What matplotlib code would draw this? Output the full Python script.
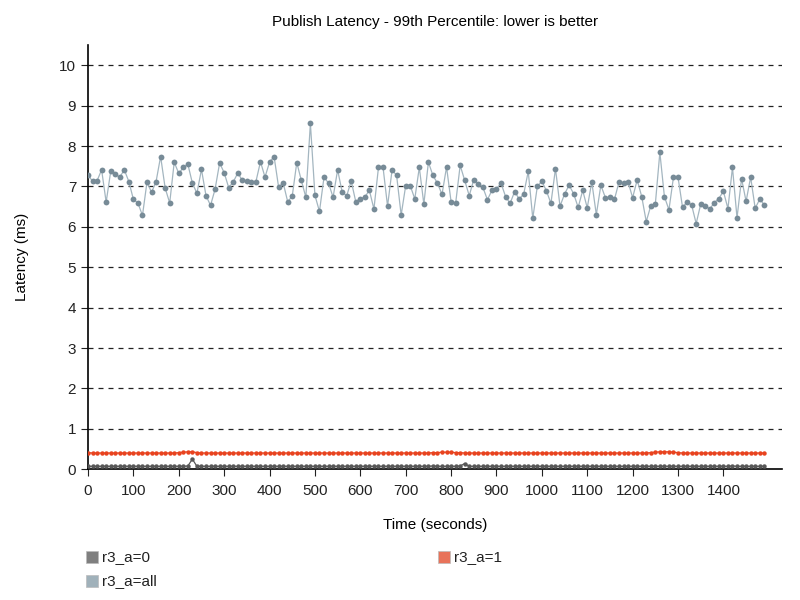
import numpy as np
import matplotlib
matplotlib.use("Agg")
import matplotlib.pyplot as plt
from matplotlib.patches import Rectangle

plt.rcParams['font.family'] = ['Liberation Sans', 'DejaVu Sans']

# time axis, one sample every 10 s
time_s = np.arange(0, 1500, 10)

# p99 latency (ms) per series
lat_all = [
    7.28, 7.13, 7.14, 7.41, 6.61, 7.37, 7.30, 7.23, 7.41, 7.12,
    6.68, 6.59, 6.28, 7.11, 6.85, 7.12, 7.74, 6.96, 6.59, 7.60,
    7.32, 7.47, 7.55, 7.08, 6.83, 7.42, 6.77, 6.53, 6.93, 7.58,
    7.34, 6.97, 7.11, 7.33, 7.15, 7.13, 7.12, 7.12, 7.61, 7.23,
    7.60, 7.74, 6.98, 7.09, 6.62, 6.76, 7.59, 7.15, 6.73, 8.56,
    6.78, 6.38, 7.23, 7.08, 6.73, 7.41, 6.86, 6.77, 7.13, 6.62,
    6.70, 6.74, 6.90, 6.44, 7.47, 7.48, 6.51, 7.41, 7.27, 6.29,
    7.02, 7.02, 6.69, 7.47, 6.56, 7.60, 7.27, 7.08, 6.80, 7.48,
    6.62, 6.58, 7.52, 7.15, 6.77, 7.17, 7.05, 6.98, 6.67, 6.90,
    6.94, 7.08, 6.75, 6.58, 6.87, 6.69, 6.81, 7.37, 6.21, 7.00,
    7.13, 6.89, 6.58, 7.44, 6.51, 6.81, 7.03, 6.82, 6.48, 6.90,
    6.47, 7.11, 6.30, 7.03, 6.72, 6.73, 6.68, 7.11, 7.09, 7.11,
    6.72, 7.16, 6.75, 6.13, 6.52, 6.56, 7.84, 6.75, 6.42, 7.23,
    7.23, 6.48, 6.62, 6.54, 6.08, 6.56, 6.52, 6.44, 6.60, 6.70,
    6.88, 6.45, 7.47, 6.22, 7.19, 6.63, 7.23, 6.46, 6.68, 6.55,
]
lat_0 = [
    0.07, 0.07, 0.07, 0.07, 0.07, 0.07, 0.07, 0.07, 0.07, 0.07,
    0.07, 0.07, 0.07, 0.07, 0.07, 0.07, 0.07, 0.07, 0.07, 0.07,
    0.07, 0.07, 0.08, 0.25, 0.07, 0.07, 0.07, 0.07, 0.07, 0.07,
    0.07, 0.07, 0.07, 0.07, 0.07, 0.07, 0.07, 0.07, 0.07, 0.07,
    0.07, 0.07, 0.07, 0.07, 0.07, 0.07, 0.07, 0.07, 0.07, 0.07,
    0.07, 0.07, 0.07, 0.07, 0.07, 0.07, 0.07, 0.07, 0.07, 0.07,
    0.07, 0.07, 0.07, 0.07, 0.07, 0.07, 0.07, 0.07, 0.07, 0.07,
    0.07, 0.07, 0.07, 0.07, 0.07, 0.07, 0.08, 0.07, 0.07, 0.07,
    0.07, 0.07, 0.08, 0.14, 0.07, 0.07, 0.07, 0.07, 0.07, 0.07,
    0.07, 0.07, 0.07, 0.07, 0.07, 0.07, 0.07, 0.07, 0.07, 0.07,
    0.07, 0.07, 0.07, 0.07, 0.07, 0.07, 0.07, 0.07, 0.07, 0.07,
    0.07, 0.07, 0.07, 0.07, 0.07, 0.07, 0.07, 0.07, 0.07, 0.07,
    0.07, 0.07, 0.07, 0.07, 0.07, 0.07, 0.07, 0.07, 0.07, 0.07,
    0.07, 0.07, 0.07, 0.07, 0.07, 0.07, 0.07, 0.07, 0.07, 0.07,
    0.07, 0.07, 0.08, 0.07, 0.07, 0.07, 0.07, 0.07, 0.07, 0.07,
]
lat_1 = [
    0.41, 0.40, 0.40, 0.40, 0.40, 0.40, 0.40, 0.40, 0.40, 0.40,
    0.40, 0.40, 0.40, 0.40, 0.40, 0.40, 0.40, 0.40, 0.40, 0.40,
    0.41, 0.42, 0.43, 0.43, 0.41, 0.40, 0.40, 0.40, 0.40, 0.40,
    0.40, 0.40, 0.40, 0.40, 0.40, 0.40, 0.40, 0.40, 0.40, 0.40,
    0.40, 0.40, 0.40, 0.40, 0.40, 0.40, 0.40, 0.40, 0.40, 0.40,
    0.40, 0.40, 0.40, 0.40, 0.40, 0.40, 0.40, 0.40, 0.40, 0.40,
    0.40, 0.40, 0.40, 0.40, 0.40, 0.40, 0.40, 0.40, 0.40, 0.40,
    0.40, 0.40, 0.40, 0.40, 0.40, 0.40, 0.41, 0.41, 0.42, 0.42,
    0.42, 0.41, 0.41, 0.40, 0.40, 0.40, 0.40, 0.40, 0.40, 0.40,
    0.40, 0.40, 0.40, 0.40, 0.40, 0.40, 0.40, 0.40, 0.40, 0.40,
    0.40, 0.40, 0.40, 0.40, 0.40, 0.40, 0.40, 0.40, 0.40, 0.40,
    0.40, 0.40, 0.40, 0.40, 0.40, 0.40, 0.40, 0.40, 0.40, 0.40,
    0.40, 0.40, 0.40, 0.40, 0.41, 0.42, 0.43, 0.43, 0.43, 0.42,
    0.41, 0.40, 0.40, 0.40, 0.40, 0.40, 0.40, 0.40, 0.40, 0.40,
    0.40, 0.40, 0.40, 0.40, 0.40, 0.40, 0.40, 0.40, 0.40, 0.40,
]

series_names = ['r3_a=0', 'r3_a=1', 'r3_a=all']
line_colors = ['#585858', '#e8431f', '#a4b6c0']
dot_colors = ['#585858', '#e8431f', '#778b97']
legend_colors = ['#7f7f7f', '#e8735a', '#a0b1ba']

fig = plt.figure(figsize=(8, 6), dpi=100)
ax = fig.add_axes([0.11, 0.218, 0.868, 0.707])

for vals, lc, dc, ms in zip([lat_0, lat_1, lat_all], line_colors, dot_colors, [3.2, 3.2, 4.2]):
    ax.plot(time_s, vals, color=lc, lw=0.9, zorder=3)
    ax.plot(time_s, vals, 'o', color=dc, ms=ms, mec='none', zorder=4)

ax.set_xlim(0, 1530)
ax.set_ylim(0, 10.5)
ax.set_xticks(np.arange(0, 1500, 100))
ax.set_yticks(np.arange(0, 11, 1))
for y in range(1, 11):
    ax.axhline(y, color='#222222', lw=0.9, ls=(0, (4, 4)), zorder=1)

for s in ['top', 'right']:
    ax.spines[s].set_visible(False)
ax.spines['left'].set_linewidth(1.2)
ax.spines['bottom'].set_linewidth(1.2)
ax.tick_params(length=5, width=0.8, labelsize=11, colors='#222222')
ax.tick_params(axis='x', pad=6)

ax.set_title('Publish Latency - 99th Percentile: lower is better', fontsize=11, pad=14)
ax.set_ylabel('Latency (ms)', fontsize=11, labelpad=22)
ax.set_xlabel('Time (seconds)', fontsize=11, labelpad=14)

# legend squares below the plot
leg_pos = [(0.107, 0.061), (0.547, 0.061), (0.107, 0.022)]
for (lx, ly), name, c in zip(leg_pos, series_names, legend_colors):
    fig.add_artist(Rectangle((lx, ly), 0.015, 0.02, transform=fig.transFigure,
                             facecolor=c, edgecolor='#bbbbbb', lw=0.5))
    fig.text(lx + 0.021, ly + 0.01, name, fontsize=11, va='center', color='#222222')

fig.savefig('out.png', dpi=100)
